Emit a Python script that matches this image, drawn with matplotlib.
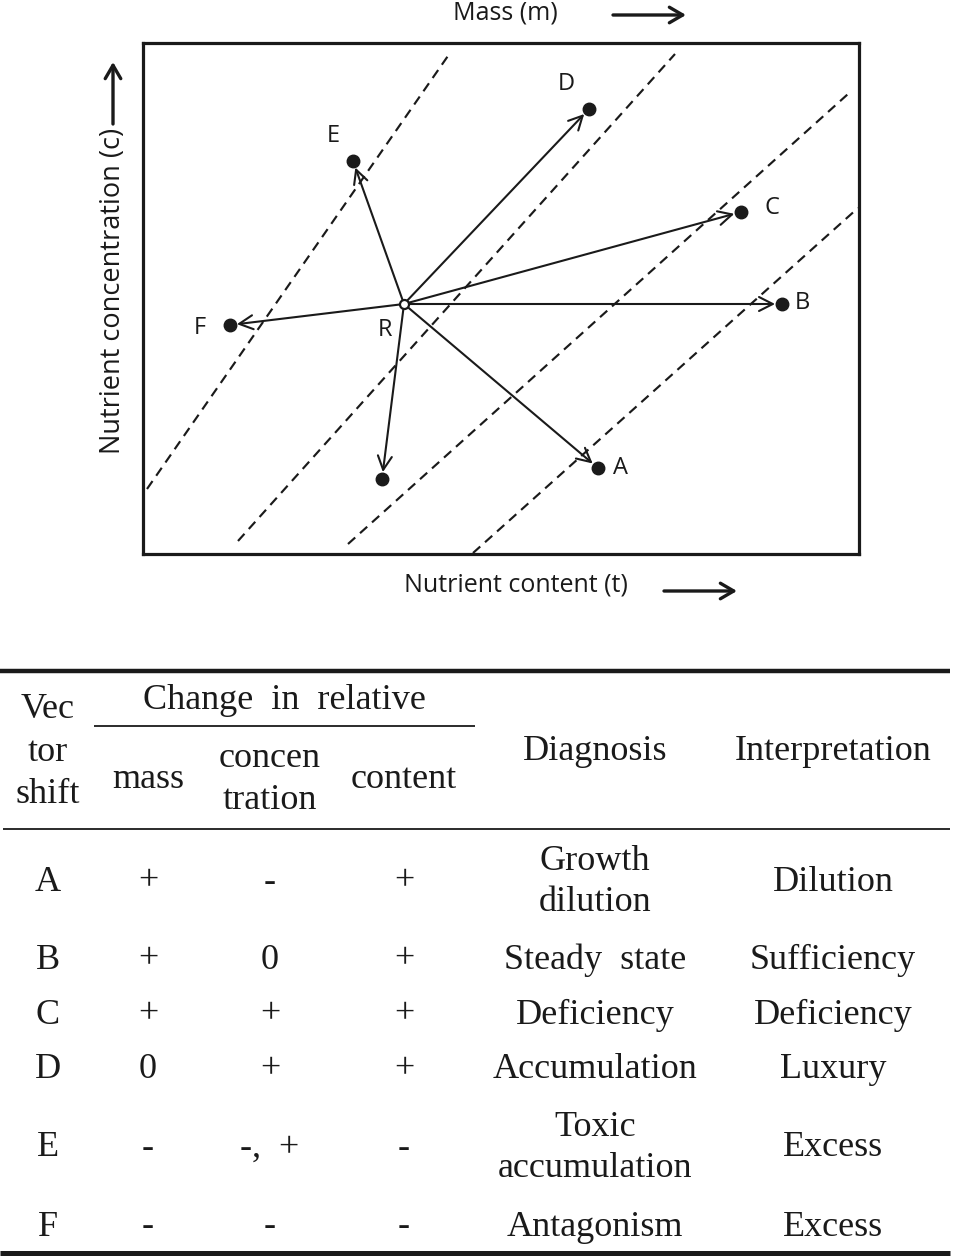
import matplotlib
matplotlib.use("Agg")
import matplotlib.pyplot as plt

# --- vector diagram data (arbitrary units: content t along x, concentration c along y) ---
ref_point = (261, 250)
shift_labels = ["A", "B", "C", "D", "E", "F", ""]
shift_x = [455, 639, 598, 446, 210, 87, 239]
shift_y = [86, 250, 342, 445, 393, 229, 75]
label_offsets = [(16, 0), (15, 1), (22, 3), (-16, 18), (-14, 18), (-22, -2), (0, 0)]

# iso-mass (dashed) lines: start and end points
iso_x0 = [4, 95, 205, 330]
iso_y0 = [65, 13, 10, 1]
iso_x1 = [307, 532, 705, 715]
iso_y1 = [501, 500, 460, 346]

# --- table data ---
vector_shift = ["A", "B", "C", "D", "E", "F"]
mass_change = ["+", "+", "+", "0", "-", "-"]
conc_change = ["-", "0", "+", "+", "-,  +", "-"]
content_change = ["+", "+", "+", "+", "-", "-"]
diagnosis = ["Growth\ndilution", "Steady  state", "Deficiency", "Accumulation",
             "Toxic\naccumulation", "Antagonism"]
interpretation = ["Dilution", "Sufficiency", "Deficiency", "Luxury", "Excess", "Excess"]

INK = "#1a1a1a"
SANS = ["Open Sans", "DejaVu Sans"]
SERIF = ["Liberation Serif", "DejaVu Serif"]

W, H = 954, 1259
fig = plt.figure(figsize=(W / 100, H / 100), dpi=100)
fig.patch.set_facecolor("white")

# page axes in pixel units (for labels and table)
ax = fig.add_axes([0, 0, 1, 1])
ax.set_xlim(0, W)
ax.set_ylim(H, 0)
ax.axis("off")

# diagram axes
bx0, bx1, by0, by1 = 143, 859, 43, 554
dax = fig.add_axes([bx0 / W, 1 - by1 / H, (bx1 - bx0) / W, (by1 - by0) / H])
dax.set_xlim(0, bx1 - bx0)
dax.set_ylim(0, by1 - by0)
dax.set_xticks([])
dax.set_yticks([])
for sp in dax.spines.values():
    sp.set_linewidth(2.3)
    sp.set_color(INK)

for x0, y0, x1, y1 in zip(iso_x0, iso_y0, iso_x1, iso_y1):
    dax.plot([x0, x1], [y0, y1], ls=(0, (4.5, 3)), lw=1.55, color=INK, zorder=1)

for x, y in zip(shift_x, shift_y):
    dax.annotate("", xy=(x, y), xytext=ref_point,
                 arrowprops=dict(arrowstyle="->,head_length=0.55,head_width=0.28",
                                 lw=1.5, color=INK, shrinkA=3, shrinkB=5,
                                 mutation_scale=18), zorder=2)

dax.plot(shift_x, shift_y, "o", ms=9, color=INK, zorder=3)
dax.plot(*ref_point, "o", ms=6.5, mfc="white", mec=INK, mew=1.6, zorder=4)

lab_fs = 17
for lab, x, y, off in zip(shift_labels, shift_x, shift_y, label_offsets):
    if lab:
        dax.annotate(lab, (x, y), xytext=off, textcoords="offset points",
                     ha="center", va="center", fontsize=lab_fs, family=SANS, color=INK)
dax.annotate("R", ref_point, xytext=(-14, -19), textcoords="offset points",
             ha="center", va="center", fontsize=lab_fs, family=SANS, color=INK)

# axis titles with direction arrows
arrow_kw = dict(arrowstyle="->,head_length=0.6,head_width=0.35", lw=2.4, color=INK,
                mutation_scale=16, shrinkA=0, shrinkB=0)
ax.text(505, 13, "Mass (m)", ha="center", va="center", fontsize=18, family=SANS, color=INK)
ax.annotate("", xy=(686, 15), xytext=(613, 15), arrowprops=arrow_kw)
ax.text(516, 585, "Nutrient content (t)", ha="center", va="center", fontsize=18,
        family=SANS, color=INK)
ax.annotate("", xy=(737, 591), xytext=(664, 591), arrowprops=arrow_kw)
ax.text(113, 291, "Nutrient concentration (c)", ha="center", va="center", rotation=90,
        fontsize=19.5, family=SANS, color=INK)
ax.annotate("", xy=(113, 62), xytext=(113, 124), arrowprops=arrow_kw)

# --- table ---
tfs = 26
col_x = [48, 148, 270, 404, 595, 833]
row_y = [882, 960, 1015, 1070, 1148, 1227]

ax.plot([0, 950], [671, 671], color=INK, lw=3.2, solid_capstyle="butt")
ax.plot([3, 950], [829, 829], color=INK, lw=1.3, solid_capstyle="butt")
ax.plot([0, 950], [1253, 1253], color=INK, lw=3.6, solid_capstyle="butt")
ax.plot([94, 475], [726, 726], color=INK, lw=1.3, solid_capstyle="butt")

def cell(x, y, s, **kw):
    ax.text(x, y, s, ha="center", va="center", fontsize=tfs, family=SERIF,
            color=INK, linespacing=1.3, **kw)

cell(48, 709, "Vec")
cell(48, 752, "tor")
cell(48, 794, "shift")
cell(284, 700, "Change  in  relative")
cell(148, 779, "mass")
cell(270, 758, "concen")
cell(270, 800, "tration")
cell(404, 779, "content")
cell(595, 751, "Diagnosis")
cell(833, 751, "Interpretation")

for i, y in enumerate(row_y):
    row = [vector_shift[i], mass_change[i], conc_change[i], content_change[i],
           diagnosis[i], interpretation[i]]
    for x, s in zip(col_x, row):
        cell(x, y, s)

fig.savefig("out.png", dpi=100, facecolor="white")
